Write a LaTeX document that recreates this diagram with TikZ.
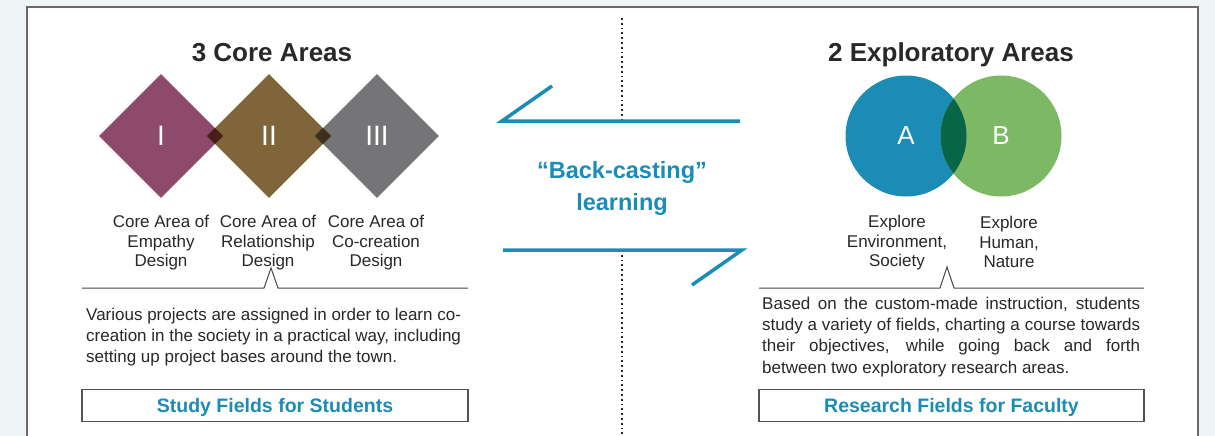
\documentclass[tikz,border=0pt]{standalone}
\usepackage{fontspec}
\setmainfont{Liberation Sans}
\usetikzlibrary{positioning,shapes.geometric}

\definecolor{castblue}{RGB}{27,140,182}
\definecolor{plumI}{RGB}{142,74,106}
\definecolor{brownII}{RGB}{128,101,58}
\definecolor{grayIII}{RGB}{117,117,119}
\definecolor{darkI}{RGB}{72,30,26}
\definecolor{darkII}{RGB}{60,47,28}
\definecolor{greenB}{RGB}{125,185,100}
\definecolor{darkAB}{RGB}{10,100,70}
\definecolor{pagebg}{RGB}{240,245,248}
\definecolor{framegray}{RGB}{105,105,105}
\definecolor{inkgray}{RGB}{40,40,40}

\tikzset{
  heading/.style={anchor=base, text=inkgray, font=\fontsize{26}{30}\selectfont\bfseries},
  corearea/.style={diamond, minimum width=124pt, minimum height=124pt, inner sep=0pt,
    text=white, font=\fontsize{28}{28}\selectfont},
  exparea/.style={circle, minimum size=121pt, inner sep=0pt, text=white,
    font=\fontsize{26}{26}\selectfont},
  areacaption/.style={align=center, inner sep=0pt, text=inkgray, font=\fontsize{17}{19.5}\selectfont},
  bodytext/.style={align=left, anchor=north west, inner sep=0pt, text=inkgray,
    font=\fontsize{17}{21.2}\selectfont},
  fieldbox/.style={draw=inkgray!80, line width=1.2pt, minimum height=32pt, inner sep=0pt,
    text depth=0pt, text=castblue, font=\fontsize{19.5}{19.5}\selectfont\bfseries},
  bracket/.style={draw=inkgray!85, line width=1pt},
  castline/.style={draw=castblue, line width=3.5pt},
  divider/.style={draw=inkgray, line width=1.8pt, dash pattern=on 1.8pt off 3pt}
}

\begin{document}
\begin{tikzpicture}[x=1pt,y=-1pt]
\useasboundingbox (0,0) rectangle (1215,436);
% page and frame
\fill[pagebg] (0,0) rectangle (1215,436);
\filldraw[fill=white, draw=framegray, line width=1.5pt] (27,440) -- (27,7) -- (1198,7) -- (1198,440);

% left half: core areas
\node[heading] (coreTitle) at (272,61.5) {3 Core Areas};
\node[corearea, fill=plumI] (coreI) at (161,136) {I};
\node[corearea, fill=brownII] (coreII) at (269,136) {II};
\node[corearea, fill=grayIII] (coreIII) at (377,136) {III};
\begin{scope}
  \clip (coreI.north) -- (coreI.east) -- (coreI.south) -- (coreI.west) -- cycle;
  \fill[darkI] (coreII.north) -- (coreII.east) -- (coreII.south) -- (coreII.west) -- cycle;
\end{scope}
\begin{scope}
  \clip (coreII.north) -- (coreII.east) -- (coreII.south) -- (coreII.west) -- cycle;
  \fill[darkII] (coreIII.north) -- (coreIII.east) -- (coreIII.south) -- (coreIII.west) -- cycle;
\end{scope}
\node[areacaption] (capI) at (161,243) {Core Area of\\Empathy\\Design};
\node[areacaption] (capII) at (268,243) {Core Area of\\Relationship\\Design};
\node[areacaption] (capIII) at (376,243) {Core Area of\\Co-creation\\Design};
\draw[bracket] (82,288) -- (264,288) -- (271,268) -- (278,288) -- (468,288);
\node[bodytext] (coreText) at (86,308) {Various projects are assigned in order to learn co-\\
  creation in the society in a practical way, including\\
  setting up project bases around the town.};
\node[fieldbox, minimum width=386pt] (studyBox) at (275,405.5) {Study Fields for Students};

% middle: back-casting
\draw[divider] (622,18) -- (622,121);
\draw[divider] (622,250) -- (622,436);
\draw[castline] (552,86) -- (502,121) -- (740,121);
\draw[castline] (503,250) -- (742,250) -- (692,285);
\node[align=center, text=castblue, font=\fontsize{23.5}{32}\selectfont\bfseries] (castText) at (622,188.3)
  {“Back-casting”\\learning};

% right half: exploratory areas
\node[heading] (expTitle) at (951,61.5) {2 Exploratory Areas};
\node[exparea, fill=castblue] (expA) at (906,136) {};
\node[exparea, fill=greenB] (expB) at (1001,136) {};
\begin{scope}
  \clip (expA.center) circle (60.5);
  \fill[darkAB] (expB.center) circle (60.5);
\end{scope}
\node[text=white, font=\fontsize{26}{26}\selectfont] (letterA) at (expA.center) {A};
\node[text=white, font=\fontsize{26}{26}\selectfont] (letterB) at (expB.center) {B};
\node[areacaption] (capA) at (897,243) {Explore\\Environment,\\Society};
\node[areacaption] (capB) at (1009,242) {Explore\\Human,\\Nature};
\draw[bracket] (759,288) -- (940,288) -- (947,267) -- (954,288) -- (1144,288);
\node[bodytext] (expText) at (762,297) {\hbox to 378pt{Based on the custom-made instruction, students}\\
  \hbox to 378pt{study a variety of fields, charting a course towards}\\
  \hbox to 378pt{their objectives, while going back and forth}\\
  between two exploratory research areas.};
\node[fieldbox, minimum width=385pt] (researchBox) at (951.5,405.5) {Research Fields for Faculty};
\end{tikzpicture}
\end{document}
